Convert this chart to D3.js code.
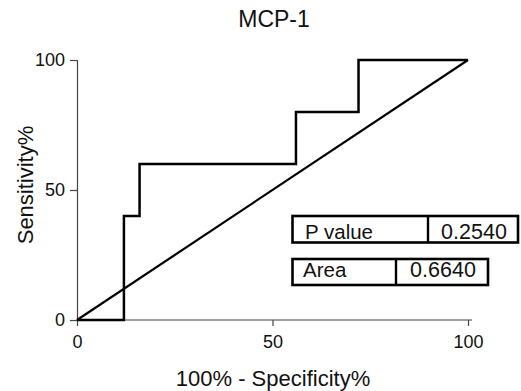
<!DOCTYPE html>
<html>
<head>
<meta charset="utf-8">
<script src="https://cdn.jsdelivr.net/npm/d3@7"></script>
<style>
  body { margin: 0; background: #fff; }
  svg { display: block; font-family: "Liberation Sans", Arial, sans-serif; }
</style>
</head>
<body>
<svg id="chart" width="521" height="391"></svg>
<script>
//chart data
const title = "MCP-1";
const rocX = [0, 12, 12, 16, 16, 56, 56, 72, 72, 100];
const rocY = [0, 0, 40, 40, 60, 60, 80, 80, 100, 100];
const refX = [0, 100];
const refY = [0, 100];
const xTicks = [0, 50, 100];
const yTicks = [0, 50, 100];
const statLabels = ["P value", "Area"];
const statValues = ["0.2540", "0.6640"];

const svg = d3.select("#chart");

//scales
const x = d3.scaleLinear().domain([0, 100]).range([77, 468]);
const y = d3.scaleLinear().domain([0, 100]).range([320, 60]);

//title
svg.append("text")
  .attr("x", 274).attr("y", 27)
  .attr("text-anchor", "middle")
  .style("font-size", "23px")
  .attr("fill", "#111")
  .text(title);

//axes
const xAxis = d3.axisBottom(x).tickValues(xTicks).tickSizeOuter(0).tickSize(6).tickPadding(9);
const gx = svg.append("g").attr("transform", "translate(0,320)").call(xAxis);
gx.select(".domain").attr("d", `M${x(0)},0H${x(100) + 4}`);

const yAxis = d3.axisLeft(y).tickValues(yTicks).tickSizeOuter(0).tickSize(7).tickPadding(5);
const gy = svg.append("g").attr("transform", "translate(77,0)").call(yAxis);

svg.selectAll(".domain, .tick line").attr("stroke", "#444").attr("stroke-width", 1.2);
svg.selectAll(".tick text")
  .style("font-size", "18px")
  .style("font-family", "'Liberation Sans', Arial, sans-serif")
  .attr("fill", "#111");

//axis titles
svg.append("text")
  .attr("x", 273).attr("y", 386)
  .attr("text-anchor", "middle")
  .style("font-size", "22px")
  .attr("fill", "#111")
  .text("100% - Specificity%");

svg.append("text")
  .attr("transform", "translate(33,185) rotate(-90)")
  .attr("text-anchor", "middle")
  .style("font-size", "22px")
  .attr("fill", "#111")
  .text("Sensitivity%");

//reference diagonal
const line = d3.line().x(d => x(d[0])).y(d => y(d[1]));
svg.append("path")
  .datum(d3.zip(refX, refY))
  .attr("fill", "none")
  .attr("stroke", "#000")
  .attr("stroke-width", 2.2)
  .attr("d", line);

//roc curve
svg.append("path")
  .datum(d3.zip(rocX, rocY))
  .attr("fill", "none")
  .attr("stroke", "#000")
  .attr("stroke-width", 2.5)
  .attr("d", line);

//stat boxes
const boxes = [
  {x0: 292.5, x1: 428, x2: 518, y0: 216, y1: 242.5, tx: 305, base: 239},
  {x0: 292.5, x1: 396, x2: 488, y0: 259, y1: 285, tx: 303, base: 277}
];
boxes.forEach((b, i) => {
  const g = svg.append("g");
  g.append("rect")
    .attr("x", b.x0).attr("y", b.y0)
    .attr("width", b.x2 - b.x0).attr("height", b.y1 - b.y0)
    .attr("fill", "#fff").attr("stroke", "#000").attr("stroke-width", 2.6);
  g.append("line")
    .attr("x1", b.x1).attr("x2", b.x1).attr("y1", b.y0).attr("y2", b.y1)
    .attr("stroke", "#000").attr("stroke-width", 2.4);
  g.append("text")
    .attr("x", b.tx).attr("y", b.base)
    .style("font-size", "20.5px")
    .attr("fill", "#111")
    .text(statLabels[i]);
  g.append("text")
    .attr("x", (b.x1 + b.x2) / 2 + 1).attr("y", b.base)
    .attr("text-anchor", "middle")
    .style("font-size", "21.5px")
    .attr("fill", "#111")
    .text(statValues[i]);
});
</script>
</body>
</html>
